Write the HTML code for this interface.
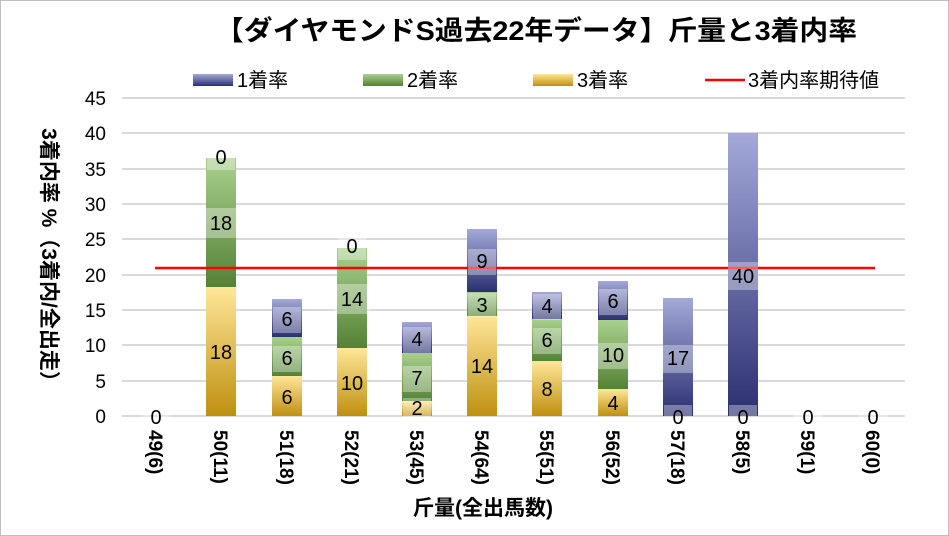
<!DOCTYPE html>
<html><head><meta charset="utf-8"><style>
body{margin:0;background:#fff}
svg{display:block;font-family:"Liberation Sans","Noto Sans CJK JP",sans-serif}
</style></head><body>
<svg width="949" height="536" viewBox="0 0 949 536">
<defs>
<linearGradient id="g3" x1="0" y1="0" x2="0" y2="1"><stop offset="0" stop-color="#ffe699"/><stop offset="1" stop-color="#bf9010"/></linearGradient>
<linearGradient id="g2" x1="0" y1="0" x2="0" y2="1"><stop offset="0" stop-color="#a9d18e"/><stop offset="1" stop-color="#548235"/></linearGradient>
<linearGradient id="g1" x1="0" y1="0" x2="0" y2="1"><stop offset="0" stop-color="#a4a9d9"/><stop offset="1" stop-color="#2a3070"/></linearGradient>
</defs>
<rect x="0.5" y="0.5" width="948" height="535" fill="#fff" stroke="#bfbfbf"/>
<text x="215" y="40" font-size="27" font-weight="bold" textLength="642" lengthAdjust="spacingAndGlyphs" fill="#000">【ダイヤモンドS過去22年データ】斤量と3着内率</text>
<!-- legend -->
<rect x="193" y="74" width="40" height="12" fill="url(#g1)"/><text x="237" y="87" font-size="20">1着率</text>
<rect x="363" y="74" width="40" height="12" fill="url(#g2)"/><text x="407" y="87" font-size="20">2着率</text>
<rect x="533" y="74" width="40" height="12" fill="url(#g3)"/><text x="577" y="87" font-size="20">3着率</text>
<line x1="705" y1="80" x2="745" y2="80" stroke="#f00" stroke-width="2.5"/><text x="748" y="87" font-size="20">3着内率期待値</text>
<!-- grid -->
<g stroke="#d9d9d9" stroke-width="2">
<line x1="122" x2="905" y1="416" y2="416"/><line x1="122" x2="905" y1="381" y2="381"/><line x1="122" x2="905" y1="345" y2="345"/><line x1="122" x2="905" y1="310" y2="310"/><line x1="122" x2="905" y1="275" y2="275"/><line x1="122" x2="905" y1="239" y2="239"/><line x1="122" x2="905" y1="204" y2="204"/><line x1="122" x2="905" y1="169" y2="169"/><line x1="122" x2="905" y1="133" y2="133"/><line x1="122" x2="905" y1="98" y2="98"/>
</g>
<g font-size="19" text-anchor="end" fill="#000">
<text x="106" y="423">0</text><text x="106" y="388">5</text><text x="106" y="352">10</text><text x="106" y="317">15</text><text x="106" y="282">20</text><text x="106" y="246">25</text><text x="106" y="211">30</text><text x="106" y="176">35</text><text x="106" y="140">40</text><text x="106" y="105">45</text>
</g>
<text transform="translate(42,260) rotate(90)" font-size="21" font-weight="bold" text-anchor="middle">3着内率 %（3着内/全出走）</text>
<!-- bars -->
<g>
<rect x="206" y="287" width="30" height="129" fill="url(#g3)"/><rect x="206" y="158" width="30" height="129" fill="url(#g2)"/>
<rect x="272" y="376" width="30" height="40" fill="url(#g3)"/><rect x="272" y="337" width="30" height="39" fill="url(#g2)"/><rect x="272" y="299" width="30" height="38" fill="url(#g1)"/>
<rect x="337" y="348" width="30" height="68" fill="url(#g3)"/><rect x="337" y="248" width="30" height="100" fill="url(#g2)"/>
<rect x="402" y="401" width="30" height="15" fill="url(#g3)"/><rect x="402" y="353" width="30" height="48" fill="url(#g2)"/><rect x="402" y="322" width="30" height="31" fill="url(#g1)"/>
<rect x="467" y="316" width="30" height="100" fill="url(#g3)"/><rect x="467" y="292" width="30" height="24" fill="url(#g2)"/><rect x="467" y="229" width="30" height="63" fill="url(#g1)"/>
<rect x="532" y="361" width="30" height="55" fill="url(#g3)"/><rect x="532" y="319" width="30" height="42" fill="url(#g2)"/><rect x="532" y="292" width="30" height="27" fill="url(#g1)"/>
<rect x="598" y="389" width="30" height="27" fill="url(#g3)"/><rect x="598" y="320" width="30" height="69" fill="url(#g2)"/><rect x="598" y="281" width="30" height="39" fill="url(#g1)"/>
<rect x="663" y="298" width="30" height="118" fill="url(#g1)"/>
<rect x="728" y="133" width="30" height="283" fill="url(#g1)"/>
</g>
<line x1="155" y1="268" x2="875" y2="268" stroke="#f00" stroke-width="2.5"/>
<!-- labels -->
<g font-size="20" text-anchor="middle">
<g fill="#fff" fill-opacity="0.35">
<rect x="141" y="405" width="30" height="26"/>
<rect x="207" y="144" width="28" height="26"/><rect x="203" y="208" width="36" height="30"/>
<rect x="273" y="307" width="28" height="26"/><rect x="273" y="346" width="28" height="26"/>
<rect x="338" y="234" width="28" height="26"/><rect x="334" y="284" width="36" height="30"/>
<rect x="403" y="327" width="28" height="26"/><rect x="403" y="366" width="28" height="26"/><rect x="403" y="398" width="28" height="22"/>
<rect x="468" y="249" width="28" height="26"/><rect x="468" y="293" width="28" height="24"/>
<rect x="533" y="294" width="28" height="26"/><rect x="533" y="328" width="28" height="26"/>
<rect x="599" y="289" width="28" height="26"/><rect x="598" y="343" width="30" height="26"/>
<rect x="663" y="345" width="30" height="28"/><rect x="664" y="405" width="28" height="11"/>
<rect x="728" y="262" width="30" height="28"/><rect x="729" y="405" width="28" height="11"/>
<rect x="793" y="405" width="30" height="26"/><rect x="858" y="405" width="30" height="26"/>
</g>
<text x="156" y="424">0</text>
<text x="221" y="164">0</text><text x="221" y="230">18</text><text x="221" y="359">18</text>
<text x="287" y="326">6</text><text x="287" y="365">6</text><text x="287" y="404">6</text>
<text x="352" y="253">0</text><text x="352" y="306">14</text><text x="352" y="390">10</text>
<text x="417" y="346">4</text><text x="417" y="385">7</text><text x="417" y="415">2</text>
<text x="482" y="268">9</text><text x="482" y="312">3</text><text x="482" y="373">14</text>
<text x="547" y="313">4</text><text x="547" y="347">6</text><text x="547" y="396">8</text>
<text x="613" y="308">6</text><text x="613" y="362">10</text><text x="613" y="410">4</text>
<text x="678" y="365">17</text><text x="678" y="424">0</text>
<text x="743" y="283">40</text><text x="743" y="424">0</text>
<text x="808" y="424">0</text><text x="873" y="424">0</text>
</g>
<!-- x labels -->
<g font-size="19" font-weight="bold">
<text transform="translate(149,430) rotate(90)">49(6)</text>
<text transform="translate(214,430) rotate(90)">50(11)</text>
<text transform="translate(280,430) rotate(90)">51(18)</text>
<text transform="translate(345,430) rotate(90)">52(21)</text>
<text transform="translate(410,430) rotate(90)">53(45)</text>
<text transform="translate(475,430) rotate(90)">54(64)</text>
<text transform="translate(540,430) rotate(90)">55(51)</text>
<text transform="translate(606,430) rotate(90)">56(52)</text>
<text transform="translate(671,430) rotate(90)">57(18)</text>
<text transform="translate(736,430) rotate(90)">58(5)</text>
<text transform="translate(801,430) rotate(90)">59(1)</text>
<text transform="translate(866,430) rotate(90)">60(0)</text>
</g>
<text x="483" y="515" font-size="21" font-weight="bold" text-anchor="middle">斤量(全出馬数)</text>
</svg>
</body></html>
